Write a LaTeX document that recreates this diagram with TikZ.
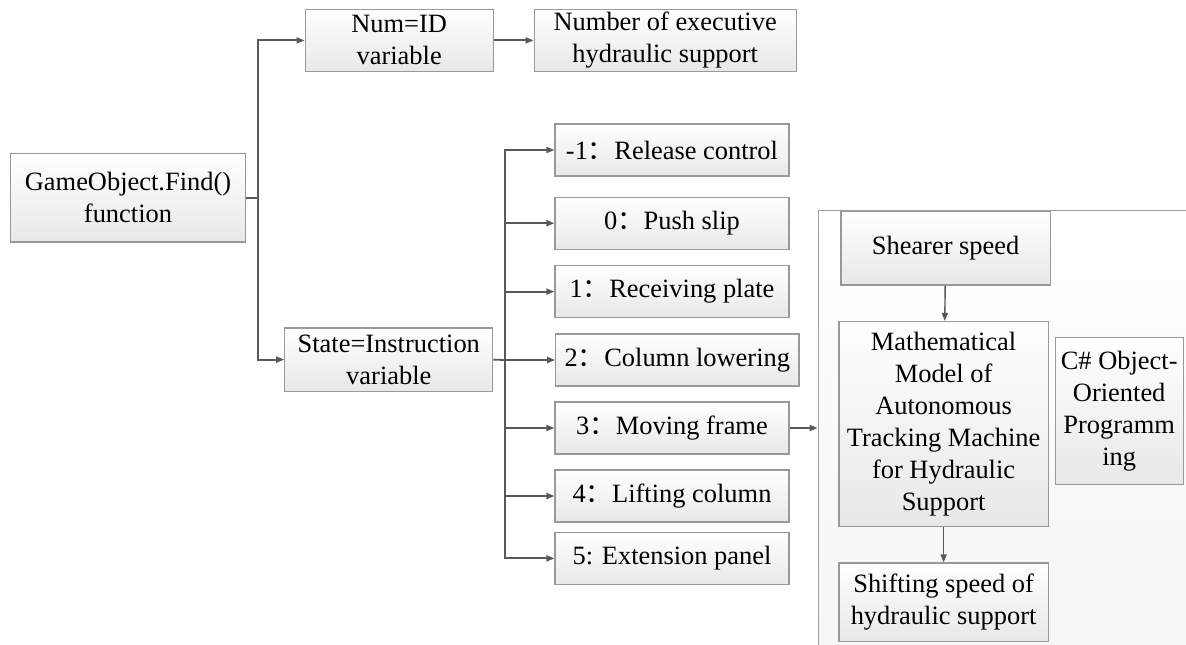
\documentclass[tikz,border=0pt]{standalone}
\usepackage{fontspec}
\setmainfont{Liberation Serif}
\newfontfamily\cjk{Noto Sans CJK SC}
\usetikzlibrary{arrows.meta}
\newcommand{\fcolon}{{\cjk ：}}

\begin{document}
\begin{tikzpicture}[font=\rmfamily\fontsize{18.8}{22.8}\selectfont,
  box/.style={draw=gray!80, line width=0.8pt, top color=white,
              bottom color=gray!18, align=center, inner sep=2pt},
  opt/.style={box, minimum width=5.85cm, minimum height=1.3cm},
  panel/.style={draw=gray!75, line width=0.8pt, top color=white,
                bottom color=gray!8, anchor=north west,
                minimum width=10cm, minimum height=12cm},
  arr/.style={-{Triangle[length=0.2cm, width=0.15cm]}, line width=1.3pt,
              draw=black!65}
]
  \useasboundingbox (0,0) rectangle (29.65,-16.1);

  \node[box, minimum width=5.88cm, minimum height=2.22cm] (find) at (3.2,-4.94)
        {GameObject.Find()\\function};
  \node[box, minimum width=4.7cm, minimum height=1.56cm] (num) at (9.98,-1.01)
        {Num=ID\\variable};
  \node[box, minimum width=6.55cm, minimum height=1.44cm] (number) at (16.63,-1.01)
        {Number of executive\\hydraulic support};
  \node[box, minimum width=5.2cm, minimum height=1.58cm] (state) at (9.72,-8.99)
        {State=Instruction\\variable};

  \node[opt] (s1) at (16.8,-3.75)  {-1\fcolon Release control};
  \node[opt] (s2) at (16.8,-5.58)  {0\fcolon Push slip};
  \node[opt] (s3) at (16.8,-7.29)  {1\fcolon Receiving plate};
  \node[opt, minimum width=6.08cm, anchor=west] (s4) at (13.88,-9.0)
        {2\fcolon Column lowering};
  \node[opt] (s5) at (16.8,-10.7)  {3\fcolon Moving frame};
  \node[opt] (s6) at (16.8,-12.4)  {4\fcolon Lifting column};
  \node[opt] (s7) at (16.8,-13.96) {5: Extension panel};

  % model panel on the right
  \node[panel] (model) at (20.44,-5.25) {};
  \node[box, minimum width=5.23cm, minimum height=1.83cm] (shearer) at (23.64,-6.21)
        {Shearer speed};
  \node[box, minimum width=5.23cm, minimum height=5.13cm] (math) at (23.59,-10.6)
        {Mathematical\\Model of\\Autonomous\\Tracking Machine\\for Hydraulic\\Support};
  \node[box, minimum width=3.2cm, minimum height=3.68cm] (csharp) at (27.98,-10.28)
        {C\# Object-\\Oriented\\Programm\\ing};
  \node[box, minimum width=5.23cm, minimum height=1.97cm] (shift) at (23.59,-15.06)
        {Shifting speed of\\hydraulic support};

  \coordinate (j1) at (6.44,-4.94);
  \coordinate (j2) at (12.63,-9.0);
  \draw[arr, -] (find.east) -- (j1);
  \draw[arr] (j1) |- (num.west);
  \draw[arr] (j1) |- (state.west);
  \draw[arr] (num) -- (number);
  \draw[arr, -] (state.east) -- (j2);
  \foreach \s in {s1,s2,s3,s4,s5,s6,s7}
    \draw[arr] (j2) |- (\s.west);
  \draw[arr] (s5.east) -- (s5.east -| model.west);
  \draw[arr, line width=1pt] (shearer) -- (math);
  \draw[arr, line width=1pt] (math) -- (shift);
\end{tikzpicture}
\end{document}
